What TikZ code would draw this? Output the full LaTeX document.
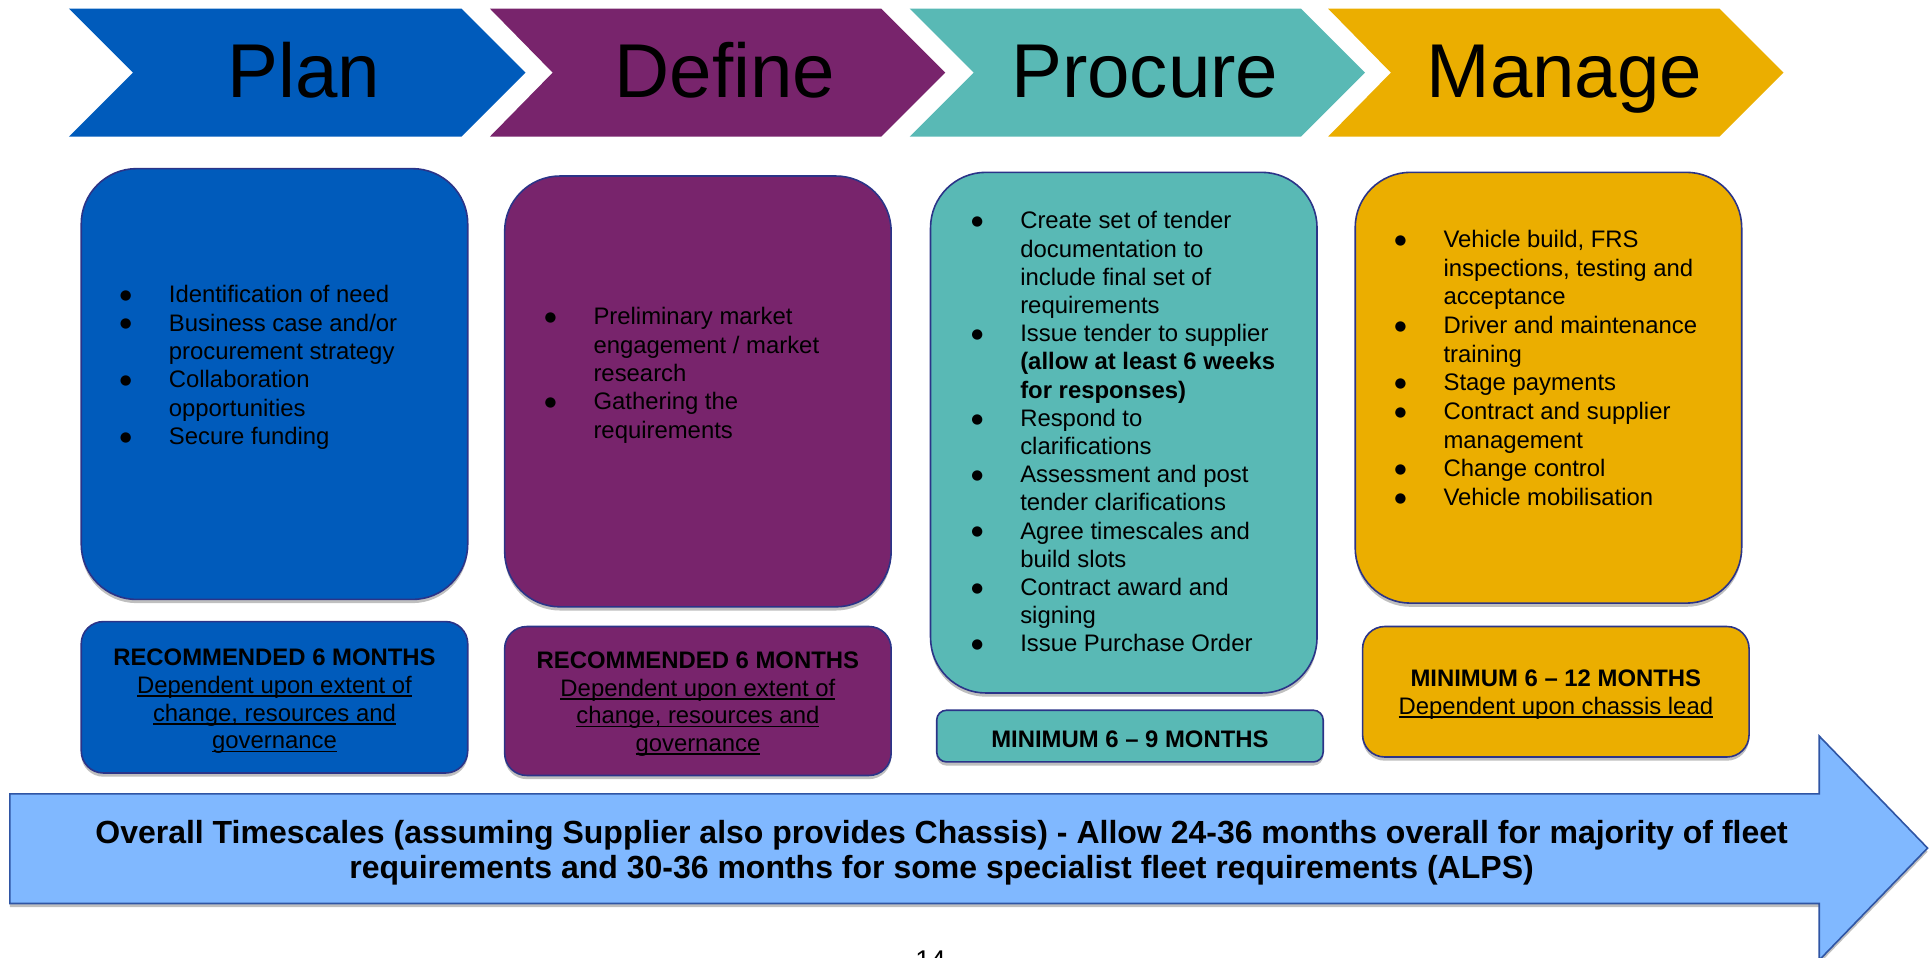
\documentclass[tikz,border=0pt]{standalone}
\usepackage{fontspec}
\setmainfont{Liberation Sans}
\newfontfamily\symfont{DejaVu Sans}
\usetikzlibrary{shadows}
\definecolor{cplan}{HTML}{005BBB}
\definecolor{cdefine}{HTML}{78246C}
\definecolor{cprocure}{HTML}{59B9B5}
\definecolor{cmanage}{HTML}{EBAE00}
\definecolor{cborder}{HTML}{2B3488}
\definecolor{carrow}{HTML}{80B8FF}
\definecolor{carrowline}{HTML}{2F55A4}
\newcommand\bul{\makebox[38.4pt][l]{\hspace{3.4pt}\makebox[0pt][c]{\raisebox{2.6pt}{\fontsize{11}{12}\symfont ●}}}}
\newcommand\myul[1]{\leavevmode\setbox0\hbox{#1}\rlap{\rule[-2.8pt]{\wd0}{1.3pt}}\box0}
\tikzset{
  chevlabel/.style={inner sep=0pt, anchor=base, font=\fontsize{62}{70}\selectfont},
  boxshadow/.style={drop shadow={shadow xshift=0pt, shadow yshift=-3pt, opacity=0.25, fill=black}},
  bigbox/.style={draw=cborder, line width=1.3pt, rounded corners=45pt, inner sep=0pt, boxshadow},
  smallbox/.style={draw=cborder, line width=1.3pt, rounded corners=18pt, inner sep=0pt, boxshadow},
  bullettext/.style={inner sep=0pt, anchor=base west, font=\fontsize{19.4}{23}\selectfont},
  centertext/.style={inner sep=0pt, anchor=base, font=\fontsize{19.4}{22.5}\selectfont},
}
\begin{document}
\begin{tikzpicture}[x=1pt,y=-1pt]
\useasboundingbox (0,0) rectangle (1568,777.5);
% chevrons
\fill[cplan]    (56,7)  -- (375,7)  -- (427,59)  -- (375,111)  -- (56,111)  -- (108,59)  -- cycle;
\fill[cdefine]  (398,7) -- (716,7)  -- (768,59)  -- (716,111)  -- (398,111) -- (449,59)  -- cycle;
\fill[cprocure] (739,7) -- (1057,7) -- (1109,59) -- (1057,111) -- (739,111) -- (791,59)  -- cycle;
\fill[cmanage]  (1079,7)-- (1397,7) -- (1449,59) -- (1397,111) -- (1079,111)-- (1130,59) -- cycle;
\node[chevlabel] (lplan) at (247,79.5) {Plan};
\node[chevlabel] (ldefine) at (589,79.5) {Define};
\node[chevlabel] (lprocure) at (930,79.5) {Procure};
\node[chevlabel] (lmanage) at (1271,79.5) {Manage};

% big boxes
\node[bigbox, fill=cplan, minimum width=314pt, minimum height=350pt] (planbox) at (223,312) {};
\node[bigbox, fill=cdefine, minimum width=314pt, minimum height=350pt] (definebox) at (567,318) {};
\node[bigbox, fill=cprocure, minimum width=314pt, minimum height=423pt] (procurebox) at (913,351.5) {};
\node[bigbox, fill=cmanage, minimum width=314pt, minimum height=350pt] (managebox) at (1258,315) {};

% small boxes
\node[smallbox, fill=cplan, minimum width=314pt, minimum height=123pt] (plansmall) at (223,566.5) {};
\node[smallbox, fill=cdefine, minimum width=314pt, minimum height=121pt] (definesmall) at (567,569.5) {};
\node[smallbox, fill=cprocure, rounded corners=8pt, minimum width=314pt, minimum height=42pt] (procuresmall) at (918,598) {};
\node[smallbox, fill=cmanage, minimum width=314pt, minimum height=106pt] (managesmall) at (1264,562) {};

% bullet texts
\node[bullettext] (plantxt) at (98.6,246) {\begin{tabular}[t]{@{}l@{}l@{}}
\bul & Identification of need\\
\bul & Business case and/or\\
     & procurement strategy\\
\bul & Collaboration\\
     & opportunities\\
\bul & Secure funding
\end{tabular}};

\node[bullettext] (definetxt) at (443.6,264) {\begin{tabular}[t]{@{}l@{}l@{}}
\bul & Preliminary market\\
     & engagement / market\\
     & research\\
\bul & Gathering the\\
     & requirements
\end{tabular}};

\node[bullettext, font=\fontsize{19.4}{22.9}\selectfont] (procuretxt) at (790.3,186) {\begin{tabular}[t]{@{}l@{}l@{}}
\bul & Create set of tender\\
     & documentation to\\
     & include final set of\\
     & requirements\\
\bul & Issue tender to supplier\\
     & \textbf{(allow at least 6 weeks}\\
     & \textbf{for responses)}\\
\bul & Respond to\\
     & clarifications\\
\bul & Assessment and post\\
     & tender clarifications\\
\bul & Agree timescales and\\
     & build slots\\
\bul & Contract award and\\
     & signing\\
\bul & Issue Purchase Order
\end{tabular}};

\node[bullettext, font=\fontsize{19.4}{23.3}\selectfont] (managetxt) at (1134.2,201) {\begin{tabular}[t]{@{}l@{}l@{}}
\bul & Vehicle build, FRS\\
     & inspections, testing and\\
     & acceptance\\
\bul & Driver and maintenance\\
     & training\\
\bul & Stage payments\\
\bul & Contract and supplier\\
     & management\\
\bul & Change control\\
\bul & Vehicle mobilisation
\end{tabular}};

% small box texts
\node[centertext] (plansmalltxt) at (223,541) {\begin{tabular}[t]{@{}c@{}}
\textbf{RECOMMENDED 6 MONTHS}\\
\myul{Dependent upon extent of}\\
\myul{change, resources and}\\
\myul{governance}
\end{tabular}};
\node[centertext] (definesmalltxt) at (567,543) {\begin{tabular}[t]{@{}c@{}}
\textbf{RECOMMENDED 6 MONTHS}\\
\myul{Dependent upon extent of}\\
\myul{change, resources and}\\
\myul{governance}
\end{tabular}};
\node[centertext] (procuresmalltxt) at (918,607) {\textbf{MINIMUM 6 – 9 MONTHS}};
\node[centertext] (managesmalltxt) at (1264,558) {\begin{tabular}[t]{@{}c@{}}
\textbf{MINIMUM 6 – 12 MONTHS}\\
\myul{Dependent upon chassis lead}
\end{tabular}};

% bottom arrow
\filldraw[fill=carrow, draw=carrowline, line width=1.3pt, boxshadow]
  (8,645) -- (1478,645) -- (1478,598) -- (1566,689) -- (1478,780) -- (1478,734) -- (8,734) -- cycle;
\node[inner sep=0pt, anchor=base, font=\fontsize{26}{29}\selectfont\bfseries] (arrowtxt) at (765,685) {\begin{tabular}[t]{@{}c@{}}
Overall Timescales (assuming Supplier also provides Chassis) - Allow 24-36 months overall for majority of fleet\\
requirements and 30-36 months for some specialist fleet requirements (ALPS)
\end{tabular}};

% page number (cut off at the page edge, as in the reference)
\node[inner sep=0pt, anchor=base, font=\fontsize{22}{26}\selectfont] (pagenum) at (756,788) {14};
\end{tikzpicture}
\end{document}
